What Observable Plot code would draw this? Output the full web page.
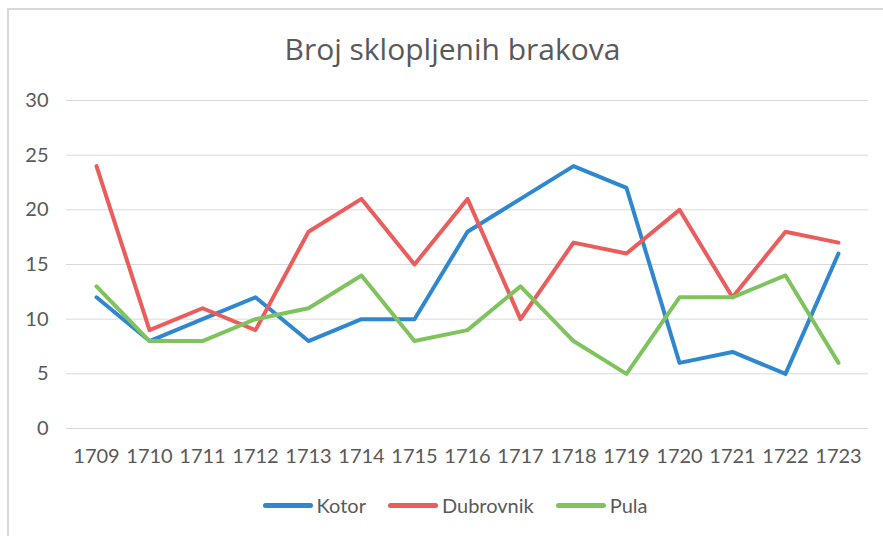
<!DOCTYPE html>
<html>
<head>
<meta charset="utf-8">
<script src="https://cdn.jsdelivr.net/npm/d3@7"></script>
<script src="https://cdn.jsdelivr.net/npm/@observablehq/plot@0.6"></script>
<style>
  html, body { margin: 0; padding: 0; background: #fff; overflow: hidden; }
  body { width: 883px; height: 536px; position: relative; font-family: "Open Sans", sans-serif; color: #595959; }
  #frame { position: absolute; left: 7px; top: 8px; width: 900px; height: 600px; border-left: 2px solid #d9d9d9; border-top: 2px solid #d9d9d9; box-sizing: border-box; }
  #title { position: absolute; left: 0; top: 29px; width: 905px; text-align: center; font-size: 30px; line-height: 40px; color: #595959; }
  #chart { position: absolute; left: 0; top: 80px; }
  #legend { position: absolute; left: 0; top: 491px; width: 910px; display: flex; justify-content: center; gap: 22px; font-size: 20px; line-height: 28px; font-family: Lato, sans-serif; }
  .item { display: flex; align-items: center; gap: 4px; }
  .sw { width: 50px; height: 5px; border-radius: 2.5px; }
</style>
</head>
<body>
<div id="frame"></div>
<div id="title">Broj sklopljenih brakova</div>
<div id="chart"></div>
<div id="legend"></div>
<script>
const years = ["1709","1710","1711","1712","1713","1714","1715","1716","1717","1718","1719","1720","1721","1722","1723"];
const seriesNames = ["Kotor", "Dubrovnik", "Pula"];
const kotor = [12, 8, 10, 12, 8, 10, 10, 18, 21, 24, 22, 6, 7, 5, 16];
const dubrovnik = [24, 9, 11, 9, 18, 21, 15, 21, 10, 17, 16, 20, 12, 18, 17];
const pula = [13, 8, 8, 10, 11, 14, 8, 9, 13, 8, 5, 12, 12, 14, 6];
const yTicks = [0, 5, 10, 15, 20, 25, 30];
const colors = ["#2f88cf", "#eb5c5c", "#7fc35e"];

const valuesBySeries = [kotor, dubrovnik, pula];
const data = [];
seriesNames.forEach((s, i) => {
  years.forEach((y, j) => data.push({series: s, year: y, value: valuesBySeries[i][j]}));
});

const chart = Plot.plot({
  width: 883,
  height: 395,
  marginLeft: 66,
  marginRight: 15,
  marginTop: 20,
  marginBottom: 47,
  style: {fontFamily: "Lato, sans-serif", fontSize: "20px", color: "#595959", background: "transparent"},
  x: {type: "point", domain: years, padding: 0.5, label: null},
  y: {domain: [0, 30], label: null},
  color: {domain: seriesNames, range: colors},
  marks: [
    Plot.gridY(yTicks, {stroke: "#d9d9d9", strokeOpacity: 1, strokeWidth: 1}),
    Plot.axisY(yTicks, {tickSize: 0, tickPadding: 18, fontSize: 20, fill: "#595959"}),
    Plot.axisX({tickSize: 0, tickPadding: 20, fontSize: 20, fill: "#595959"}),
    Plot.line(data, {x: "year", y: "value", z: "series", stroke: "series", strokeWidth: 4, strokeLinejoin: "round", strokeLinecap: "round"})
  ]
});
document.getElementById("chart").appendChild(chart);

const legend = document.getElementById("legend");
seriesNames.forEach((s, i) => {
  const it = document.createElement("div");
  it.className = "item";
  const sw = document.createElement("div");
  sw.className = "sw";
  sw.style.background = colors[i];
  const t = document.createElement("span");
  t.textContent = s;
  it.appendChild(sw);
  it.appendChild(t);
  legend.appendChild(it);
});
</script>
</body>
</html>
